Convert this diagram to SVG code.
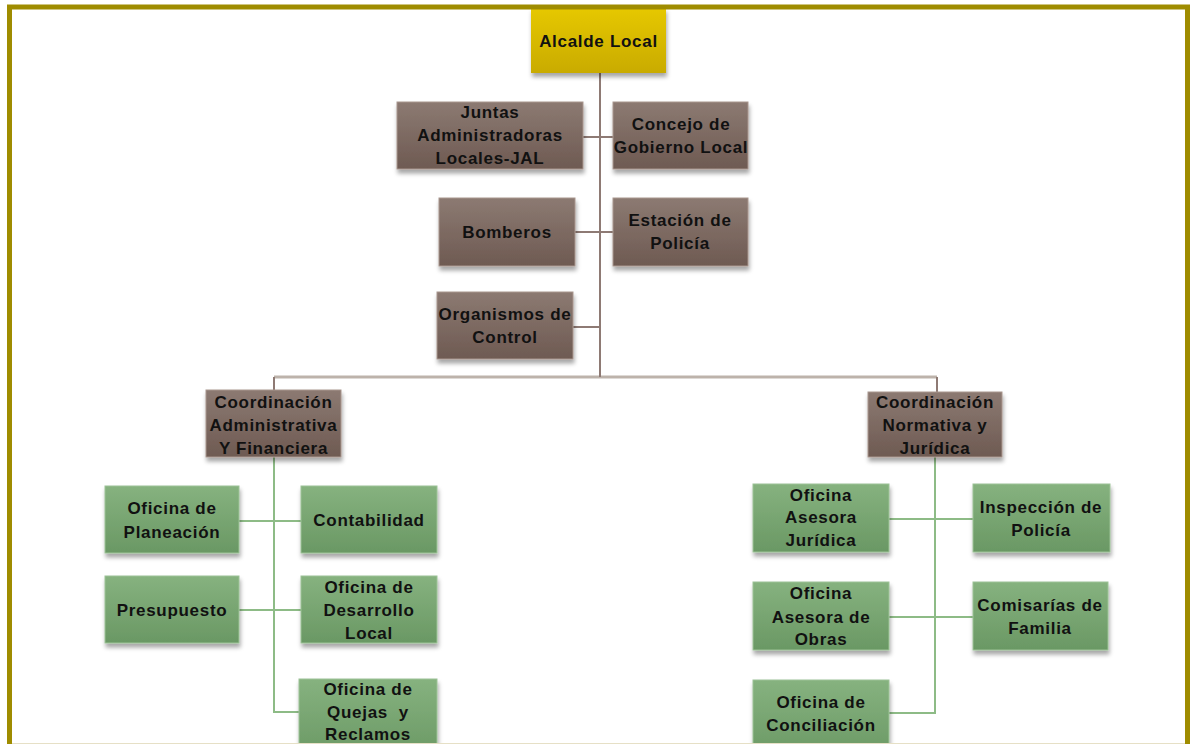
<svg xmlns="http://www.w3.org/2000/svg" width="1190" height="744" viewBox="0 0 1190 744">
<defs>
<linearGradient id="gBrown" x1="0" y1="0" x2="0" y2="1">
<stop offset="0" stop-color="#8c7a72"/><stop offset="1" stop-color="#6e5a52"/>
</linearGradient>
<linearGradient id="gGreen" x1="0" y1="0" x2="0" y2="1">
<stop offset="0" stop-color="#86b27f"/><stop offset="1" stop-color="#6a9864"/>
</linearGradient>
<linearGradient id="gYellow" x1="0" y1="0" x2="0" y2="1">
<stop offset="0" stop-color="#e6c800"/><stop offset="1" stop-color="#c9ab00"/>
</linearGradient>
<filter id="sh" x="-10%" y="-10%" width="125%" height="135%">
<feDropShadow dx="1" dy="4" stdDeviation="2" flood-color="#000" flood-opacity="0.35"/>
</filter>
</defs>
<style>
.b{fill:url(#gBrown);stroke:#a8968e;stroke-width:1;filter:url(#sh)}
.g{fill:url(#gGreen);stroke:#9cc296;stroke-width:1;filter:url(#sh)}
.y{fill:url(#gYellow);filter:url(#sh)}
text{font-family:"Liberation Sans",Arial,sans-serif;font-weight:bold;font-size:17px;fill:#111;text-anchor:middle;letter-spacing:0.7px}
.cb{stroke:#8e7a74;stroke-width:2;fill:none}
.cm{stroke:#bdb3ab;stroke-width:3;fill:none}
.cg{stroke:#8dbb86;stroke-width:2;fill:none}
</style>
<rect width="1190" height="744" fill="#ffffff"/>
<g id="connectors">
<path class="cm" d="M274 377H937"/>
<path class="cb" d="M600 73V377M583 137H613M575 232H613M573 327H600M274 377V390M937 377V392"/>
<path class="cg" d="M274 457V712H299M239 521H301M239 610H301"/>
<path class="cg" d="M935 457V713H889M889 519H973M889 617H973"/>
</g>
<g id="alcalde"><rect class="y" x="531" y="8" width="135" height="65"/><text x="598.5" y="47">Alcalde Local</text></g>
<g id="juntas"><rect class="b" x="397" y="102" width="186" height="67"/><text x="490" y="118">Juntas</text><text x="490" y="141">Administradoras</text><text x="490" y="164">Locales-JAL</text></g>
<g id="concejo"><rect class="b" x="613" y="102" width="135" height="67"/><text x="681" y="130">Concejo de</text><text x="681" y="153">Gobierno Local</text></g>
<g id="bomberos"><rect class="b" x="439" y="198" width="136" height="68"/><text x="507" y="238">Bomberos</text></g>
<g id="estacion"><rect class="b" x="613" y="198" width="135" height="68"/><text x="680" y="226">Estación de</text><text x="680" y="249">Policía</text></g>
<g id="organismos"><rect class="b" x="437" y="292" width="136" height="67"/><text x="505" y="320">Organismos de</text><text x="505" y="343">Control</text></g>
<g id="coordAdmin"><rect class="b" x="206" y="390" width="135" height="67"/><text x="273.5" y="408">Coordinación</text><text x="273.5" y="431">Administrativa</text><text x="273.5" y="454">Y Financiera</text></g>
<g id="coordNorm"><rect class="b" x="868" y="392" width="134" height="65"/><text x="935" y="408">Coordinación</text><text x="935" y="431">Normativa y</text><text x="935" y="454">Jurídica</text></g>
<g id="planeacion"><rect class="g" x="105" y="486" width="134" height="67"/><text x="172" y="514">Oficina de</text><text x="172" y="538">Planeación</text></g>
<g id="contabilidad"><rect class="g" x="301" y="486" width="136" height="67"/><text x="369" y="526">Contabilidad</text></g>
<g id="presupuesto"><rect class="g" x="105" y="576" width="134" height="67"/><text x="172" y="616">Presupuesto</text></g>
<g id="desarrollo"><rect class="g" x="301" y="576" width="136" height="67"/><text x="369" y="593">Oficina de</text><text x="369" y="616">Desarrollo</text><text x="369" y="639">Local</text></g>
<g id="quejas"><rect class="g" x="299" y="679" width="138" height="80"/><text x="368" y="695">Oficina de</text><text x="368" y="718">Quejas&#160; y</text><text x="368" y="740">Reclamos</text></g>
<g id="juridica"><rect class="g" x="753" y="484" width="136" height="68"/><text x="821" y="501">Oficina</text><text x="821" y="523">Asesora</text><text x="821" y="546">Jurídica</text></g>
<g id="inspeccion"><rect class="g" x="973" y="484" width="137" height="68"/><text x="1041" y="513">Inspección de</text><text x="1041" y="536">Policía</text></g>
<g id="obras"><rect class="g" x="753" y="582" width="136" height="68"/><text x="821" y="599">Oficina</text><text x="821" y="623">Asesora de</text><text x="821" y="645">Obras</text></g>
<g id="comisarias"><rect class="g" x="973" y="582" width="135" height="68"/><text x="1040" y="611">Comisarías de</text><text x="1040" y="634">Familia</text></g>
<g id="conciliacion"><rect class="g" x="753" y="680" width="136" height="80"/><text x="821" y="708">Oficina de</text><text x="821" y="731">Conciliación</text></g>
<g id="frame">
<path d="M9.5 750V7H1187.5V750" fill="none" stroke="#9f8c00" stroke-width="5"/>
<path d="M12 743.5H1185" stroke="#e6e0c6" stroke-width="1"/>
</g>
</svg>
